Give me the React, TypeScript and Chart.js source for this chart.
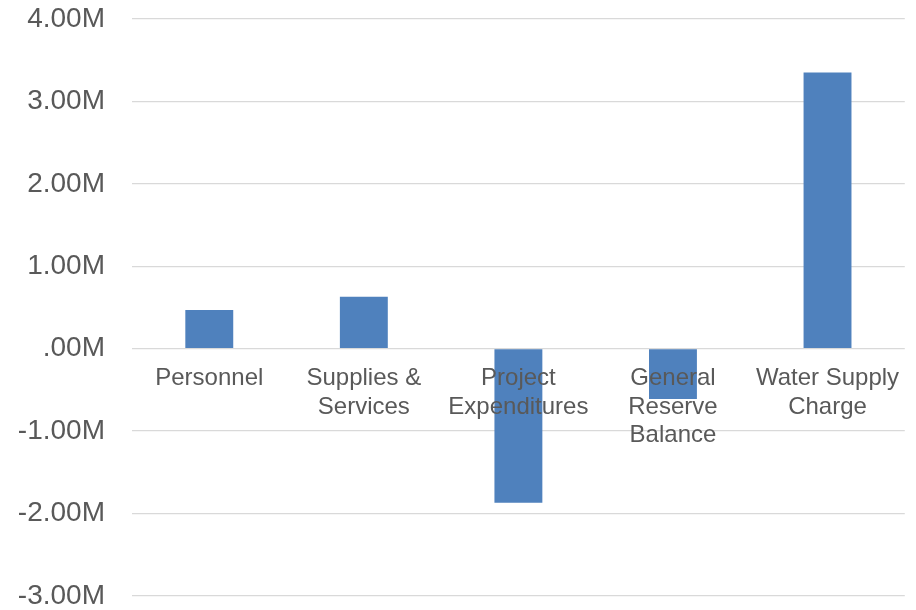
import React, { useEffect, useRef } from "react";
import { Chart, registerables } from "chart.js";

Chart.register(...registerables);

const categories: string[][] = [
  ["Personnel"],
  ["Supplies &", "Services"],
  ["Project", "Expenditures"],
  ["General", "Reserve", "Balance"],
  ["Water Supply", "Charge"],
];
const values: number[] = [470000, 630000, -1870000, -610000, 3350000];
const yMin = -3000000;
const yMax = 4000000;
const yStep = 1000000;
const yTickLabels: string[] = ["-3.00M", "-2.00M", "-1.00M", ".00M", "1.00M", "2.00M", "3.00M", "4.00M"];

const TEXT = "#595959";
const GRID = "#D9D9D9";
const BAR = "#4F81BD";
const FONT = "'Liberation Sans', Arial, sans-serif";

export default function App() {
  const ref = useRef<HTMLCanvasElement | null>(null);

  useEffect(() => {
    if (!ref.current) return;
    const chart = new Chart(ref.current, {
      type: "bar",
      data: {
        labels: categories,
        datasets: [
          {
            data: values,
            backgroundColor: BAR,
            borderWidth: 0,
            barPercentage: 1,
            categoryPercentage: 0.31,
          },
        ],
      },
      options: {
        animation: false,
        responsive: false,
        events: [],
        layout: { padding: { top: 19, bottom: 14, left: 0, right: 9 } },
        plugins: { legend: { display: false }, tooltip: { enabled: false } },
        scales: {
          x: {
            position: { y: 0 } as any,
            grid: { display: false, drawTicks: false },
            border: { display: false },
            ticks: {
              z: 1,
              autoSkip: false,
              maxRotation: 0,
              minRotation: 0,
              padding: 16,
              color: TEXT,
              font: { family: FONT, size: 24, lineHeight: 1.18 },
            },
            afterFit: (scale: any) => {
              scale.height = 0;
            },
          },
          y: {
            min: yMin,
            max: yMax,
            grid: {
              color: GRID,
              lineWidth: 1.3,
              drawTicks: true,
              tickLength: 27,
              tickColor: "rgba(0,0,0,0)",
            },
            border: { display: false },
            ticks: {
              stepSize: yStep,
              padding: 0,
              color: TEXT,
              font: { family: FONT, size: 28, lineHeight: 1 },
              callback: (_v: any, i: number) => yTickLabels[i],
            },
            afterFit: (scale: any) => {
              scale.width = 132;
            },
          },
        },
      },
    });
    return () => chart.destroy();
  }, []);

  return (
    <div style={{ position: "absolute", left: 0, top: 0, width: 916, height: 610, background: "#fff" }}>
      <canvas ref={ref} width={916} height={610} style={{ display: "block" }} />
    </div>
  );
}
